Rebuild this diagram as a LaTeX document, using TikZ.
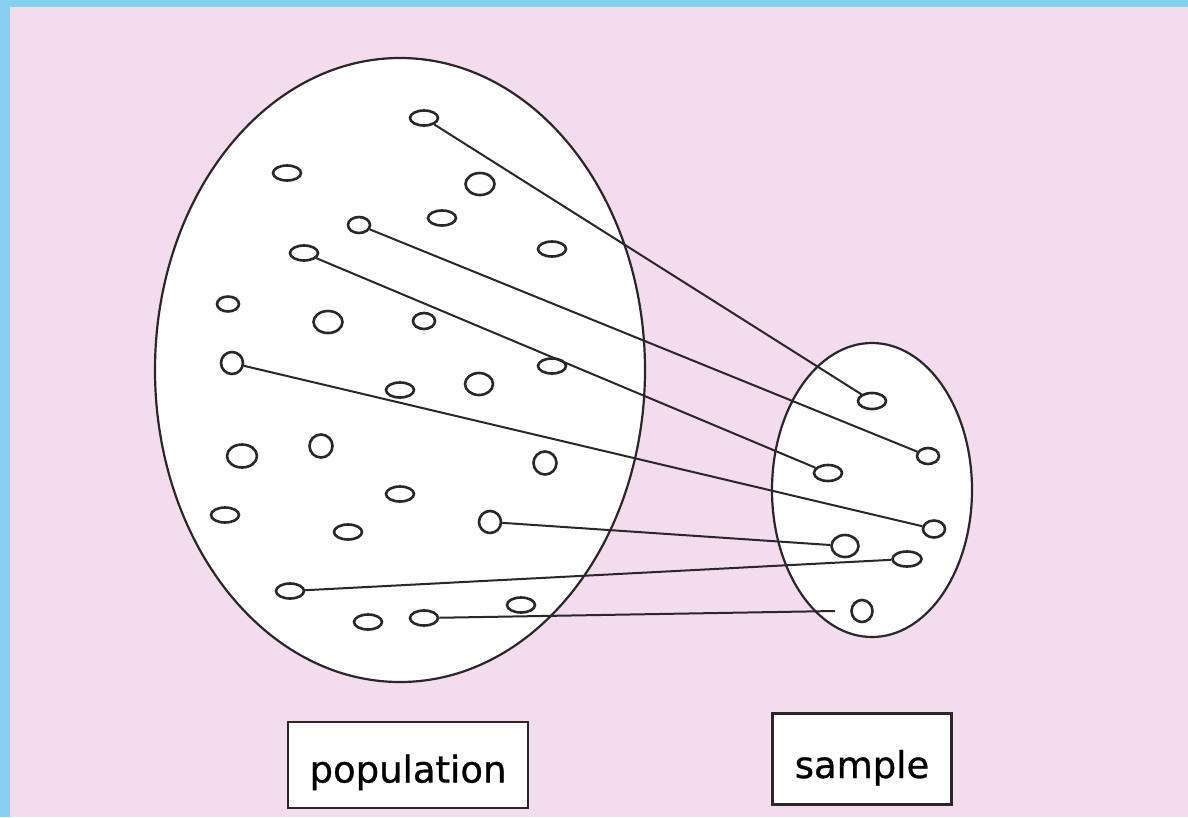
\documentclass[tikz,border=0pt]{standalone}
\usepackage{fontspec}
\newfontfamily\labfont[FakeBold=0.8]{DejaVu Sans}
\usetikzlibrary{shapes.geometric}
\definecolor{bgblue}{HTML}{88CEED}
\definecolor{bgpink}{HTML}{F2DCEE}
\definecolor{ink}{HTML}{2A262A}
\tikzset{
  blob/.style 2 args={ellipse, draw=ink, fill=white, line width=2.6pt, inner sep=0pt, minimum width=#1, minimum height=#2},
  setshape/.style={draw=ink, fill=white, line width=2.2pt},
  link/.style={draw=ink, line width=2pt},
  labelbox/.style={draw=ink, fill=white, line width=2.4pt, inner sep=0pt, font=\labfont\fontsize{37}{40}\selectfont}
}
\begin{document}
\begin{tikzpicture}[x=1pt,y=-1pt]
\useasboundingbox (0,0) rectangle (1188,817);
\fill[bgblue] (0,0) rectangle (1188,817);
\fill[bgpink] (10,7) rectangle (1188,817);
% sets
\node[setshape, ellipse, minimum width=490pt, minimum height=624pt, inner sep=0pt] (pop) at (400,370) {};
\node[setshape, ellipse, minimum width=200pt, minimum height=294pt, inner sep=0pt] (samp) at (872,490) {};
% population members
\node[blob={28}{15}] (p1) at (424,118) {};
\node[blob={28}{15}] (p2) at (287,173) {};
\node[blob={29}{22}] (p3) at (480,184) {};
\node[blob={28}{15}] (p4) at (442,218) {};
\node[blob={22}{16}] (p5) at (359,225) {};
\node[blob={28}{15}] (p6) at (304,253) {};
\node[blob={28}{15}] (p7) at (552,249) {};
\node[blob={22}{15}] (p8) at (228,304) {};
\node[blob={29}{22}] (p9) at (328,322) {};
\node[blob={22}{16}] (p10) at (424,321) {};
\node[blob={22}{22}] (p11) at (232,363) {};
\node[blob={28}{15}] (p12) at (552,366) {};
\node[blob={28}{15}] (p13) at (400,390) {};
\node[blob={28}{22}] (p14) at (479,384) {};
\node[blob={30}{23}] (p15) at (242,456) {};
\node[blob={23}{23}] (p16) at (321,446) {};
\node[blob={23}{23}] (p17) at (545,463) {};
\node[blob={28}{15}] (p18) at (400,494) {};
\node[blob={28}{15}] (p19) at (225,515) {};
\node[blob={28}{15}] (p20) at (348,532) {};
\node[blob={22}{22}] (p21) at (490,522) {};
\node[blob={28}{15}] (p22) at (290,591) {};
\node[blob={28}{15}] (p23) at (521,605) {};
\node[blob={28}{15}] (p24) at (368,622) {};
\node[blob={28}{15}] (p25) at (424,618) {};
% sample members
\node[blob={28}{16}] (s1) at (872,401) {};
\node[blob={22}{16}] (s2) at (928,456) {};
\node[blob={28}{16}] (s3) at (828,473) {};
\node[blob={22}{17}] (s4) at (934,529) {};
\node[blob={27}{22}] (s5) at (845,546) {};
\node[blob={29}{15}] (s6) at (907,559) {};
\node[blob={21}{22}] (s7) at (862,611) {};
\coordinate (e7) at (835,611);
% links
\draw[link] (p1) -- (s1);
\draw[link] (p5) -- (s2);
\draw[link] (p6) -- (s3);
\draw[link] (p11) -- (s4);
\draw[link] (p21) -- (s5);
\draw[link] (p22) -- (s6);
\draw[link] (p25) -- (e7);
% labels
\node[labelbox, minimum width=240pt, minimum height=86pt, text height=43pt, text depth=8pt] (lpop) at (408,765) {population};
\node[labelbox, minimum width=179pt, minimum height=91pt, text height=46pt, text depth=8pt] (lsamp) at (862,759) {sample};
\end{tikzpicture}
\end{document}
